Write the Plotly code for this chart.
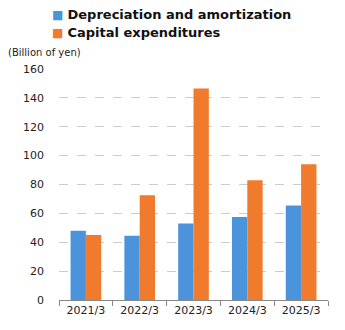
import plotly.graph_objects as go

categories = ["2021/3", "2022/3", "2023/3", "2024/3", "2025/3"]
depreciation = [48, 44.5, 53, 57.5, 65.5]
capex = [45, 72.5, 146.5, 83, 94]
y_ticks = [0, 20, 40, 60, 80, 100, 120, 140, 160]
series_names = ["Depreciation and amortization", "Capital expenditures"]
series_colors = ["#4b94dc", "#f07b2c"]

fig = go.Figure()
for name, vals, col in zip(series_names, [depreciation, capex], series_colors):
    fig.add_trace(go.Bar(name=name, x=categories, y=vals, showlegend=False,
                         marker=dict(color=col, line=dict(width=0))))

legend_ann = []
for i, (name, col) in enumerate(zip(series_names, series_colors)):
    legend_ann.append(dict(
        text=f'<span style="color:{col};font-size:12px">■</span> <b>{name}</b>',
        xref="paper", yref="paper", x=-0.032, y=[1.238, 1.156][i],
        xanchor="left", yanchor="middle", showarrow=False,
        font=dict(family="DejaVu Sans", size=13, color="#111111")))

fig.update_layout(
    width=345, height=330,
    margin=dict(l=59, r=17, t=69, b=30, autoexpand=False),
    paper_bgcolor="white", plot_bgcolor="white",
    barmode="group", bargap=0.43, bargroupgap=0,
    font=dict(family="DejaVu Sans", size=11, color="#222222"),
    annotations=legend_ann + [dict(text="(Billion of yen)", xref="paper", yref="paper", x=-0.19, y=1.04,
                      xanchor="left", yanchor="bottom", showarrow=False,
                      font=dict(size=10, color="#222222"), xshift=-2)],
)
fig.update_yaxes(range=[0, 160], tickvals=y_ticks, showgrid=True, gridcolor="#cccccc",
                 griddash="dash", gridwidth=1, zeroline=False, showline=False,
                 ticks="", ticklabelstandoff=14)
fig.update_xaxes(showline=True, linecolor="#888888", linewidth=1, ticks="outside",
                 tickson="boundaries", ticklen=5, tickcolor="#888888", showgrid=False)

fig.write_html("out.html")
